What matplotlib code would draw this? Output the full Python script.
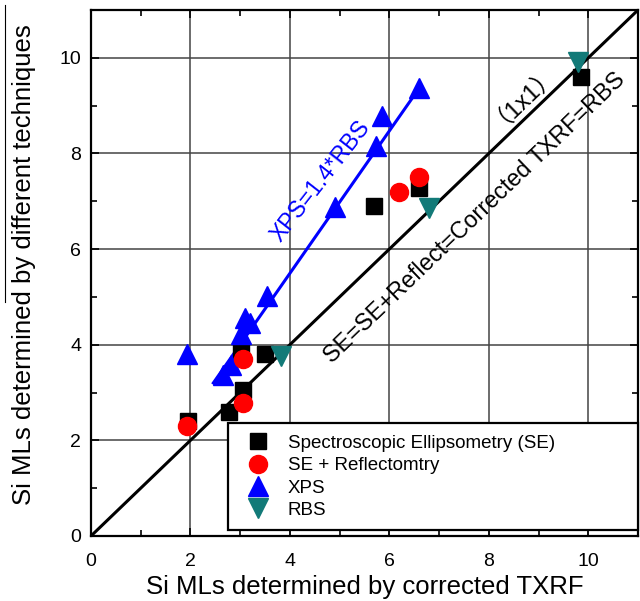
import matplotlib
matplotlib.use("Agg")
import matplotlib.pyplot as plt
from matplotlib.lines import Line2D

plt.rcParams['font.family'] = ['Liberation Sans', 'DejaVu Sans']

# Spectroscopic Ellipsometry (SE)
se_x = [1.96, 2.78, 3.05, 3.02, 3.5, 5.7, 6.6, 9.85]
se_y = [2.4, 2.6, 3.05, 3.87, 3.81, 6.9, 7.28, 9.6]
# SE + Reflectometry
ser_x = [1.94, 3.06, 3.06, 6.19, 6.6]
ser_y = [2.3, 2.78, 3.7, 7.2, 7.5]
# XPS
xps_x = [1.94, 2.66, 2.82, 3.02, 3.2, 3.1, 3.53, 4.9, 5.73, 5.85, 6.6]
xps_y = [3.8, 3.36, 3.58, 4.22, 4.46, 4.56, 5.02, 6.88, 8.16, 8.79, 9.37]
# RBS
rbs_x = [3.82, 6.8, 9.8]
rbs_y = [3.76, 6.86, 9.92]

# guide lines
fit_x = [2.46, 6.63]
fit_y = [3.2, 9.41]
unity = [0, 11]

fig = plt.figure(figsize=(6.4, 6.01), dpi=100)
ax = fig.add_axes([0.1422, 0.1082, 0.8547, 0.8752])

ax.plot(unity, unity, color='black', lw=2.2, zorder=3)
ax.plot(fit_x, fit_y, color='blue', lw=2.2, zorder=3)

ax.plot(se_x, se_y, 's', color='black', ms=11, ls='none', zorder=4,
        label='Spectroscopic Ellipsometry (SE)')
ax.plot(ser_x, ser_y, 'o', color='red', ms=13, ls='none', zorder=5,
        label='SE + Reflectomtry')
ax.plot(xps_x, xps_y, '^', color='blue', ms=14, ls='none', zorder=4,
        label='XPS')
ax.plot(rbs_x, rbs_y, 'v', color='#127a78', ms=14, ls='none', zorder=4,
        label='RBS')

ax.text(4.62, 7.43, 'XPS=1.4*RBS', color='blue', fontsize=16.5,
        rotation=52, ha='center', va='center', rotation_mode='anchor')
ax.text(7.72, 6.66, 'SE=SE+Reflect=Corrected TXRF=RBS', color='black',
        fontsize=16.8, rotation=43.9, ha='center', va='center',
        rotation_mode='anchor')
ax.text(8.62, 9.32, '\uff081x1\uff09', color='black', fontsize=17,
        rotation=43.9, ha='center', va='center', rotation_mode='anchor',
        family=['Liberation Sans', 'Noto Sans CJK SC'])

ax.set_xlim(0, 11)
ax.set_ylim(0, 11)
ax.set_xticks([0, 2, 4, 6, 8, 10])
ax.set_yticks([0, 2, 4, 6, 8, 10])
ax.set_xticks([1, 3, 5, 7, 9], minor=True)
ax.set_yticks([1, 3, 5, 7, 9], minor=True)
ax.tick_params(which='both', direction='in', top=True, right=True,
               labelsize=14, width=1.2)
ax.tick_params(which='major', length=6, pad=7)
ax.tick_params(which='minor', length=4)
ax.tick_params(axis='x', which='major', pad=12)
ax.grid(True, which='major', color='#444444', lw=1.1)
for s in ax.spines.values():
    s.set_linewidth(1.6)

ax.set_xlabel('Si MLs determined by corrected TXRF', fontsize=18.5,
              labelpad=4)
ax.set_ylabel('Si MLs determined by different techniques', fontsize=18.5)
ax.yaxis.set_label_coords(-0.10, 0.515)

leg = ax.legend(loc='lower left', bbox_to_anchor=(0.25, 0.011, 0.75, 0.2),
                mode='expand', borderaxespad=0, fontsize=13.5,
                fancybox=False, edgecolor='black', framealpha=1,
                labelspacing=0.28, borderpad=0.6, handletextpad=0.6)
leg.get_frame().set_linewidth(1.6)
leg.set_zorder(10)

# thin stray line at the left edge of the scan
fig.add_artist(Line2D([5 / 640, 5 / 640], [1 - 5 / 601, 1 - 302 / 601],
                      color='black', lw=0.8))

fig.savefig('out.png', dpi=100)
